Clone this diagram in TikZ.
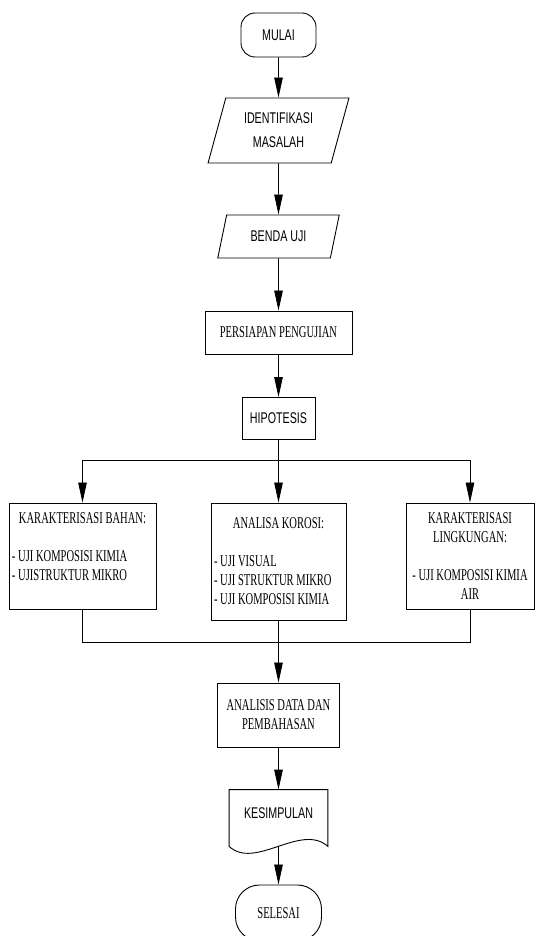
\documentclass[tikz,border=0pt]{standalone}
\usepackage{fontspec}
\setmainfont{Liberation Serif}[FakeStretch=0.64]
\newfontfamily\narrowsans{Liberation Sans}[FakeStretch=0.69]
\usetikzlibrary{shapes.geometric,arrows.meta}

\begin{document}
\begin{tikzpicture}[x=1pt,y=-1pt,line width=0.8pt,
    every node/.style={font=\fontsize{16.5}{19}\selectfont},
    sans/.style={font=\narrowsans\fontsize{15.5}{24}\selectfont},
    process/.style={draw,line width=0.9pt,inner sep=3pt},
    io/.style={draw,line width=0.9pt,trapezium,trapezium left angle=73,
        trapezium right angle=107,trapezium stretches=true},
    terminal/.style={draw,line width=0.9pt,rounded corners=14pt},
    arrow/.style={-{Triangle[length=20pt,width=8.5pt]}}]

    \useasboundingbox (0,0) rectangle (535,936);
    \clip (0,0) rectangle (535,936);

    \node[terminal,sans,minimum width=75pt,minimum height=44pt] (mulai) at (278.5,35) {MULAI};
    \node[io,sans,align=center,minimum width=141pt,minimum height=65pt] (identifikasi) at (278.5,130.5) {IDENTIFIKASI\\MASALAH};
    \node[io,sans,minimum width=122pt,minimum height=43pt] (benda) at (278.5,236.5) {BENDA UJI};
    \node[process,minimum width=147pt,minimum height=43pt] (persiapan) at (278.5,332.5) {PERSIAPAN PENGUJIAN};
    \node[process,sans,minimum width=73pt,minimum height=42pt] (hipotesis) at (278.5,418.5) {HIPOTESIS};

    \coordinate (bagi) at (278.5,460);

    \node[process,minimum width=147pt,minimum height=106pt,align=left] (bahan) at (82.5,556)
        {\makebox[141pt]{KARAKTERISASI BAHAN:}\\[19pt]- UJI KOMPOSISI KIMIA\\- UJISTRUKTUR MIKRO\\ \mbox{}};
    \node[process,minimum width=135pt,minimum height=117pt,align=left] (korosi) at (278.5,561.5)
        {\makebox[129pt]{ANALISA KOROSI:}\\[19pt]- UJI VISUAL\\- UJI STRUKTUR MIKRO\\- UJI KOMPOSISI KIMIA};
    \node[process,minimum width=128pt,minimum height=106pt,align=center] (lingkungan) at (470,556)
        {KARAKTERISASI\\LINGKUNGAN:\\[19pt]- UJI KOMPOSISI KIMIA\\AIR};

    \coordinate (gabung) at (278.5,642);

    \node[process,minimum width=122pt,minimum height=64pt,align=center] (analisis) at (278.5,715) {ANALISIS DATA DAN\\PEMBAHASAN};
    \node[sans,minimum width=98pt,minimum height=56pt,text depth=10pt] (kesimpulan) at (278.5,818) {KESIMPULAN};
    \draw[line width=0.9pt] (kesimpulan.south west) -- (kesimpulan.north west) -- (kesimpulan.north east)
        -- (kesimpulan.south east) .. controls +(-27,-24) and +(26,24) .. (kesimpulan.south west);
    \node[terminal,rounded corners=24pt,minimum width=86pt,minimum height=56pt] (selesai) at (278.5,913) {SELESAI};

    \draw[arrow] (mulai) -- (identifikasi);
    \draw[arrow] (identifikasi) -- (benda);
    \draw[arrow] (benda) -- (persiapan);
    \draw[arrow] (persiapan) -- (hipotesis);
    \draw (hipotesis) -- (bagi);
    \draw[arrow] (bagi) -| (bahan);
    \draw[arrow] (bagi) -- (korosi);
    \draw[arrow] (bagi) -| (lingkungan);
    \draw (bahan) |- (gabung);
    \draw (lingkungan) |- (gabung);
    \draw[arrow] (korosi) -- (analisis);
    \draw[arrow] (analisis) -- (kesimpulan);
    \draw[arrow] (kesimpulan) -- (selesai);
\end{tikzpicture}
\end{document}
